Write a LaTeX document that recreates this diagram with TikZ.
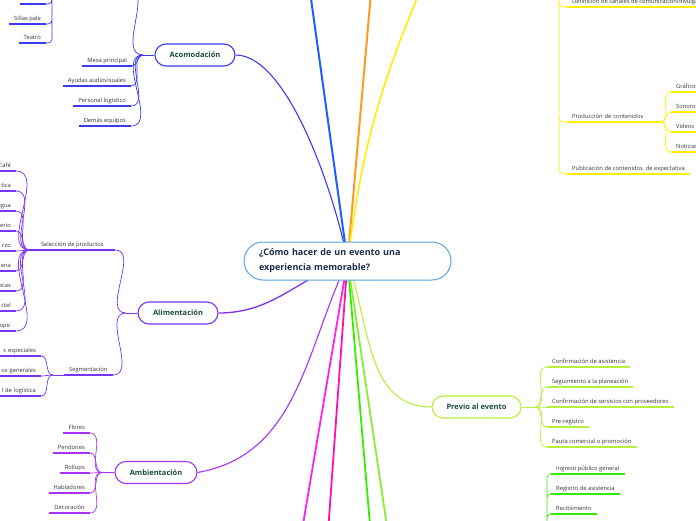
\documentclass[tikz,border=0pt]{standalone}
\usepackage{fontspec}
\setmainfont{Open Sans}
\usepackage{tikz}
\usetikzlibrary{backgrounds}
\definecolor{celeste}{HTML}{5AA5DE}
\definecolor{marino}{HTML}{1C2B4A}
\definecolor{verdeosc}{HTML}{1A4D3A}
\definecolor{gristexto}{HTML}{333333}
\definecolor{azul}{HTML}{3B3BF0}
\definecolor{azulrey}{HTML}{1E5EFF}
\definecolor{naranja}{HTML}{FF9A1F}
\definecolor{amarillo}{HTML}{FFEE00}
\definecolor{violeta}{HTML}{7A33F5}
\definecolor{morado}{HTML}{A833F5}
\definecolor{fucsia}{HTML}{FF22EE}
\definecolor{rosa}{HTML}{FF10B0}
\definecolor{verde}{HTML}{33EE00}
\definecolor{verdeclaro}{HTML}{88EE33}
\definecolor{lima}{HTML}{B5F03A}

\begin{document}
\begin{tikzpicture}
     [x=1pt, y=-1pt,
     tema/.style = {draw, fill=white, rounded corners=11pt, line width=1.1pt,
       minimum width=80pt, minimum height=22pt, text=verdeosc,
       font=\fontsize{7.5}{9}\selectfont\bfseries},
     hoja/.style = {inner xsep=5pt, inner ysep=2.5pt, text height=4.4pt, text depth=1.3pt,
       text=gristexto, font=\fontsize{5.8}{7}\selectfont,
       append after command={(\tikzlastnode.south west) edge[draw=#1,line width=1.5pt]
         (\tikzlastnode.south east)}},
     hizq/.style = {hoja=#1, anchor=south east},
     hder/.style = {hoja=#1, anchor=south west},
     rama/.style = {line width=0.7pt}
     ]

     \useasboundingbox (0,0) rectangle (696,520);
     \clip (0,0) rectangle (696,520);

     \node[draw=celeste, fill=white, line width=1pt, rounded corners=19pt,
       minimum height=38pt, text width=177pt, inner xsep=15pt, align=left,
       text=marino, font=\fontsize{9}{15}\selectfont\bfseries]
       (centro) at (347.5,261) {¿Cómo hacer de un evento una\\experiencia memorable?};

     \path (195,55) node[tema,draw=azul] (acomod) {Acomodación}
           (178,313) node[tema,draw=violeta] (aliment) {Alimentación}
           (156,472.5) node[tema,draw=morado,minimum width=82pt] (ambient) {Ambientación}
           (476.5,407) node[tema,draw=lima,minimum width=89pt] (previo) {Previo al evento};

     % hojas
     \path (132,66) node[hizq=azul] (mesa) {Mesa principal}
           (131,86) node[hizq=azul] (ayudas) {Ayudas audiovisuales}
           (131,106) node[hizq=azul] (personal) {Personal logístico}
           (131,126) node[hizq=azul] (demas) {Demás equipos}
           (46,4) node[hizq=azul,minimum width=26pt] (aula) {}
           (46,24) node[hizq=azul] (sillas) {Sillas pala}
           (46,43) node[hizq=azul] (teatro) {Teatro};

     \path (115,250) node[hizq=violeta,minimum width=85pt] (seleccion) {Selección de productos}
           (113,375) node[hizq=violeta,minimum width=49pt] (segmenta) {Segmentación};
     \path[every node/.append style={text width=28pt, align=right}]
           (16,171) node[hizq=violeta] (cafe) {Café}
           (16,191) node[hizq=violeta] (tica) {tica}
           (16,211) node[hizq=violeta] (agua) {agua}
           (16,231) node[hizq=violeta] (erio) {erio}
           (16,251) node[hizq=violeta] (rzo) {rzo}
           (16,271) node[hizq=violeta] (ena) {ena}
           (16,291) node[hizq=violeta] (ecas) {ecas}
           (16,311) node[hizq=violeta] (ctel) {ctel}
           (16,331) node[hizq=violeta] (opic) {opic};
     \path[every node/.append style={text width=40pt, align=right}]
           (41,356) node[hizq=violeta] (especiales) {s especiales}
           (41,376) node[hizq=violeta] (generales) {os generales}
           (41,396) node[hizq=violeta] (logistica) {l de logística};

     \path (90,433) node[hizq=morado] (flores) {Flores}
           (90,453) node[hizq=morado] (pendones) {Pendones}
           (90,473) node[hizq=morado] (rollups) {Rollups}
           (90,493) node[hizq=morado] (habladores) {Habladores}
           (90,513) node[hizq=morado] (decoracion) {Decoración};

     \path (547,367) node[hder=lima] (confasis) {Confirmación de asistencia}
           (547,387) node[hder=lima] (seguim) {Seguimiento a la planeación}
           (547,407) node[hder=lima] (confserv) {Confirmación de servicios con proveedores}
           (547,427) node[hder=lima] (prereg) {Pre-registro}
           (547,447) node[hder=lima] (pauta) {Pauta comercial o promoción};

     \path (551,474) node[hder=verde] (ingreso) {Ingreso público general}
           (551,494) node[hder=verde] (registro) {Registro de asistencia}
           (551,514) node[hder=verde] (recib) {Recibimiento};

     \path (567,7) node[hder=amarillo] (defin) {Definición de canales de comunicación/divulgación}
           (567,122) node[hder=amarillo,text width=83pt,align=left] (produc) {Producción de contenidos}
           (567,174) node[hder=amarillo] (public) {Publicación de contenidos\ \ de expectativa};
     \path[every node/.append style={text width=30pt, align=left}]
           (671,92) node[hder=amarillo] (grafico) {Gráficos}
           (671,112) node[hder=amarillo] (sonoro) {Sonoros}
           (671,132) node[hder=amarillo] (videos) {Videos}
           (671,152) node[hder=amarillo] (noticia) {Noticias};

     % puntos de union
     \coordinate (hubAcom) at (143,55);
     \coordinate (acOff) at (128,-12);
     \coordinate (trAula) at (52,-30);
     \coordinate (hubAli) at (126,313);
     \coordinate (hubSeg) at (53,375);
     \coordinate (hubAmb) at (102,472.5);
     \coordinate (hubPre) at (535,407);
     \coordinate (trVerde) at (547,560);
     \coordinate (trAmar) at (559,-30);
     \coordinate (ramaAzul) at (307,-30);
     \coordinate (ramaNaranja) at (373,-30);
     \coordinate (ramaAmarilla) at (425,-20);
     \coordinate (ramaFucsia) at (297,560);
     \coordinate (ramaRosa) at (326,560);
     \coordinate (ramaVerde) at (373,560);
     \coordinate (ramaVerdeClaro) at (392,560);

     \begin{scope}[on background layer]
      \draw[azul, line width=1.1pt] (centro.center) to[out=100,in=0,looseness=0.6] (acomod.east);
      \draw[azulrey, line width=2pt] (centro.center) -- (ramaAzul);
      \draw[naranja, line width=2pt] (centro.center) -- (ramaNaranja);
      \draw[amarillo, line width=1.6pt] (centro.center) to[bend left=8] (ramaAmarilla);
      \draw[violeta, line width=1.3pt] (centro.center) to[out=200,in=0] (aliment.east);
      \draw[morado, line width=1.1pt] (centro.center) to[out=245,in=10] (ambient.east);
      \draw[lima, line width=1.1pt] (centro.center) to[out=290,in=180] (previo.west);
      \draw[fucsia, line width=1.8pt] (centro.center) -- (ramaFucsia);
      \draw[rosa, line width=1.8pt] (centro.center) -- (ramaRosa);
      \draw[verde, line width=1.8pt] (centro.center) -- (ramaVerde);
      \draw[verdeclaro, line width=1.8pt] (centro.center) -- (ramaVerdeClaro);
     \end{scope}

     \draw[azul, rama] (acomod.west) -- (hubAcom);
     \draw[azul, rama, out=180, in=0] (hubAcom) edge (mesa.south east) edge (ayudas.south east)
       edge (personal.south east) edge (demas.south east) edge (acOff);
     \draw[azul, rama, rounded corners=4pt] (trAula) |- (aula.south east)
       (trAula) |- (sillas.south east) (trAula) |- (teatro.south east);

     \draw[violeta, rama] (aliment.west) -- (hubAli);
     \draw[violeta, rama, out=180, in=0] (hubAli) edge (seleccion.south east) edge (segmenta.south east);
     \draw[violeta, rama, out=180, in=0] (seleccion.south west) edge (cafe.south east)
       edge (tica.south east) edge (agua.south east) edge (erio.south east) edge (rzo.south east)
       edge (ena.south east) edge (ecas.south east) edge (ctel.south east) edge (opic.south east);
     \draw[violeta, rama] (segmenta.south west) -- (hubSeg);
     \draw[violeta, rama, out=180, in=0] (hubSeg) edge (especiales.south east)
       edge (generales.south east) edge (logistica.south east);

     \draw[morado, rama] (ambient.west) -- (hubAmb);
     \draw[morado, rama, out=180, in=0] (hubAmb) edge (flores.south east) edge (pendones.south east)
       edge (rollups.south east) edge (habladores.south east) edge (decoracion.south east);

     \draw[lima, rama] (previo.east) -- (hubPre);
     \draw[lima, rama, out=0, in=180] (hubPre) edge (confasis.south west) edge (seguim.south west)
       edge (confserv.south west) edge (prereg.south west) edge (pauta.south west);

     \draw[verde, rama, rounded corners=4pt] (trVerde) |- (ingreso.south west)
       (trVerde) |- (registro.south west) (trVerde) |- (recib.south west);

     \draw[amarillo, rama, rounded corners=4pt] (trAmar) |- (defin.south west)
       (trAmar) |- (produc.south west) (trAmar) |- (public.south west);
     \draw[amarillo, rama, out=0, in=180] (produc.south east) edge (grafico.south west)
       edge (sonoro.south west) edge (videos.south west) edge (noticia.south west);
\end{tikzpicture}
\end{document}
